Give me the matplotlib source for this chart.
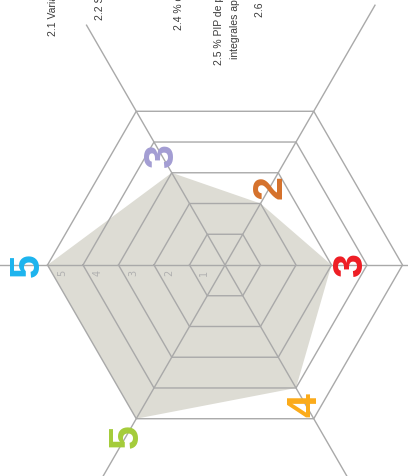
import numpy as np
import matplotlib
matplotlib.use('Agg')
import matplotlib.pyplot as plt

# Radar values, one per axis (axes drawn anticlockwise from the left)
axis_angles = [180, 120, 60, 0, 300, 240]
values = [5, 3, 2, 3, 4, 5]
value_colors = ['#1cb4ee', '#a39dd3', '#d5712b', '#ee1d24', '#fbab19', '#a4cc3a']
ring_levels = [1, 2, 3, 4, 5]
axis_lengths = [8.5, 7.8, 8.45, 8.5, 8.5, 8.5]

# Category labels (cut off at the top edge in the source)
cat_labels = [
    '2.1 Variación anual del indicador',
    '2.2 Superficie sembrada con riego',
    '2.4 % de productores asistidos',
    '2.5 % PIP de proyectos\nintegrales aprobados',
    '2.6 Nivel de inversión pública',
]
cat_x = [53, 100, 179, 227, 260]      # pixel centres
cat_bottom = [36, 20, 30, 65, 17]    # pixel bottoms

W, H = 408, 476
CX, CY = 225, 265   # centre of the radar in pixels
S = 35.5            # pixels per unit

fig = plt.figure(figsize=(W / 100, H / 100), dpi=100)
ax = fig.add_axes([0, 0, 1, 1])
ax.set_xlim(-CX / S, (W - CX) / S)
ax.set_ylim(-(H - CY) / S, CY / S)
ax.set_aspect('equal')
ax.axis('off')

theta = np.deg2rad(axis_angles)
cos_t, sin_t = np.cos(theta), np.sin(theta)
grid_col = '#a9a9a9'

# filled area
v = np.array(values, dtype=float)
ax.fill(v * cos_t, v * sin_t, color='#dddcd4', lw=0, zorder=1)

# hexagonal rings
for r in ring_levels:
    xs = np.append(r * cos_t, r * cos_t[0])
    ys = np.append(r * sin_t, r * sin_t[0])
    ax.plot(xs, ys, color=grid_col, lw=1, zorder=2)

# spokes
for c, s, L in zip(cos_t, sin_t, axis_lengths):
    ax.plot([0, L * c], [0, L * s], color=grid_col, lw=1, zorder=2)

# ring tick labels along the left spoke
for r in ring_levels:
    ax.text(-(r - 0.42), -0.22, str(r), rotation=90, ha='center', va='center',
            fontsize=7, color='#b0b0b0', zorder=3)

# value labels
for val, c, s, col in zip(values, cos_t, sin_t, value_colors):
    rr = val + 0.55
    ax.text(rr * c, rr * s, str(val), rotation=90, ha='center', va='center',
            fontsize=31, fontweight='bold', color=col, zorder=4,
            family=['Liberation Sans', 'DejaVu Sans'])

# category labels at the top
for lab, px, pb in zip(cat_labels, cat_x, cat_bottom):
    fig.text(px / W, 1 - pb / H, lab, rotation=90, ha='center', va='bottom',
             fontsize=7.5, color='#3a3a3a', linespacing=1.7,
             family=['Liberation Sans Narrow', 'Liberation Sans', 'DejaVu Sans'])

fig.savefig('out.png', dpi=100)
